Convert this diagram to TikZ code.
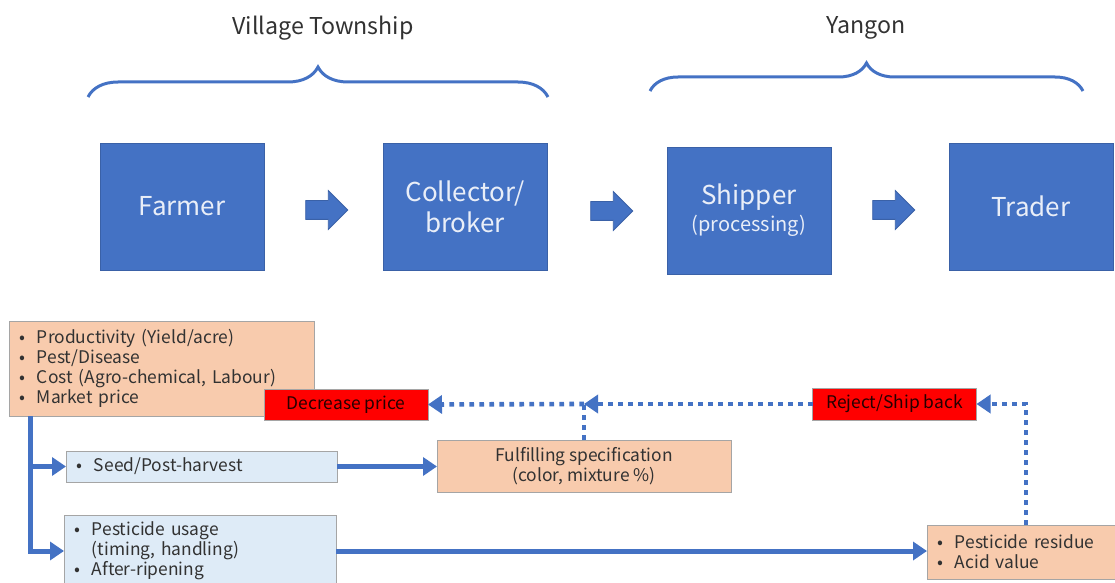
\documentclass[tikz,border=0pt]{standalone}
\usepackage{fontspec}
\setmainfont{Noto Sans CJK JP}
\usepackage{tikz}
\usetikzlibrary{arrows.meta,positioning,shapes.arrows,decorations.pathreplacing,calc}
\usepackage{xcolor}
\definecolor{officeblue}{RGB}{68,114,196}
\definecolor{peach}{RGB}{248,203,173}
\definecolor{paleblue}{RGB}{222,235,247}
\definecolor{boxgray}{RGB}{165,165,165}
\definecolor{txtgray}{RGB}{50,50,50}
\newcommand{\bul}{\makebox[9pt][l]{•}}
\newcommand{\ind}{\hspace*{9pt}}

\begin{document}
\begin{tikzpicture}[x=0.5pt,y=-0.5pt,
  every node/.style={font=\fontsize{8.7}{10}\selectfont,text=txtgray,outer sep=0pt},
  chainbox/.style={draw=officeblue!85!black,fill=officeblue,minimum width=82pt,
    minimum height=63.5pt,align=center,text=white!88!officeblue,
    font=\fontsize{13}{15.5}\selectfont},
  blockarrow/.style={single arrow,draw=officeblue!85!black,fill=officeblue,
    minimum height=21pt,inner sep=4.5pt,single arrow head extend=5pt},
  factorbox/.style={draw=boxgray,fill=peach,inner xsep=5pt,align=left},
  stepbox/.style={draw=boxgray,fill=paleblue,inner xsep=5pt,align=left},
  alertbox/.style={draw=boxgray,fill=red,minimum width=82pt,minimum height=15.5pt,
    text=black!85!red},
  flowline/.style={draw=officeblue,line width=2.5pt,-{Triangle[length=7pt,width=9pt]}},
  checkline/.style={draw=officeblue,line width=2.3pt,dash pattern=on 2.3pt off 2.7pt},
  checkarrow/.style={checkline,-{Triangle[length=7pt,width=9pt]}},
  bracket/.style={draw=officeblue,line width=1.5pt,decorate,
    decoration={brace,amplitude=#1}},
  region/.style={font=\fontsize{11.6}{13}\selectfont}]

  \useasboundingbox (0,0) rectangle (1115,583);

  % ── top: regions and value chain ─────────────────────────────────
  \node[region] (village) at (323,28) {Village Township};
  \node[region] (yangon) at (866,28) {Yangon};
  \draw[bracket=15pt] (88,97) -- (548,97);
  \draw[bracket=14pt] (650,91) -- (1083,91);

  \node[chainbox] (farmer) at (182,206.5) {Farmer};
  \node[chainbox] (collector) at (465,206.5) {Collector/\\broker};
  \node[chainbox] (shipper) at (749,210.5)
    {Shipper\\[-2pt]{\fontsize{10}{11}\selectfont(processing)}};
  \node[chainbox] (trader) at (1031,206.5) {Trader};

  \node[blockarrow] (a1) at (322,210) {};
  \node[blockarrow] (a2) at (607,211) {};
  \node[blockarrow] (a3) at (889,210) {};

  % ── bottom: factors and checks ───────────────────────────────────
  \node[factorbox,anchor=north west,text width=142.5pt,minimum height=47.5pt]
    (factors) at (9,321)
    {\bul Productivity (Yield/acre)\\\bul Pest/Disease\\
     \bul Cost (Agro-chemical, Labour)\\\bul Market price};

  \node[alertbox] (decrease) at (346,404.5) {Decrease price};
  \node[alertbox,minimum height=16pt] (reject) at (894.5,404) {Reject/Ship back};

  \node[factorbox,align=center,minimum width=147pt,minimum height=26pt]
    (fulfil) at (584,466) {Fulfilling specification\\(color, mixture \%)};

  \node[stepbox,text width=125.5pt,minimum height=15.5pt] (seed) at (201.5,466.5)
    {\bul Seed/Post-harvest};
  \node[stepbox,text width=126pt,minimum height=36pt] (usage) at (200,551)
    {\bul Pesticide usage\\\ind(timing, handling)\\\bul After-ripening};

  \node[factorbox,text width=89pt,minimum height=27pt] (residue) at (1026,552)
    {\bul Pesticide residue\\\bul Acid value};

  % solid flows
  \coordinate (trunk) at ([xshift=10.5pt]factors.south west);
  \draw[flowline] (trunk) |- (usage.west);
  \draw[flowline] (trunk |- seed.west) -- (seed.west);
  \draw[flowline] (seed.east) -- (seed.east -| fulfil.west);
  \draw[flowline] (usage.east) -- (usage.east -| residue.west);

  % dotted feedback
  \coordinate (merge) at (fulfil.north |- reject.west);
  \draw[checkarrow] (residue.north) |- (reject.east);
  \draw[checkarrow] (reject.west) -- (merge);
  \draw[checkline] (fulfil.north) -- (merge);
  \draw[checkarrow] (merge) -- (decrease.east);

\end{tikzpicture}
\end{document}
